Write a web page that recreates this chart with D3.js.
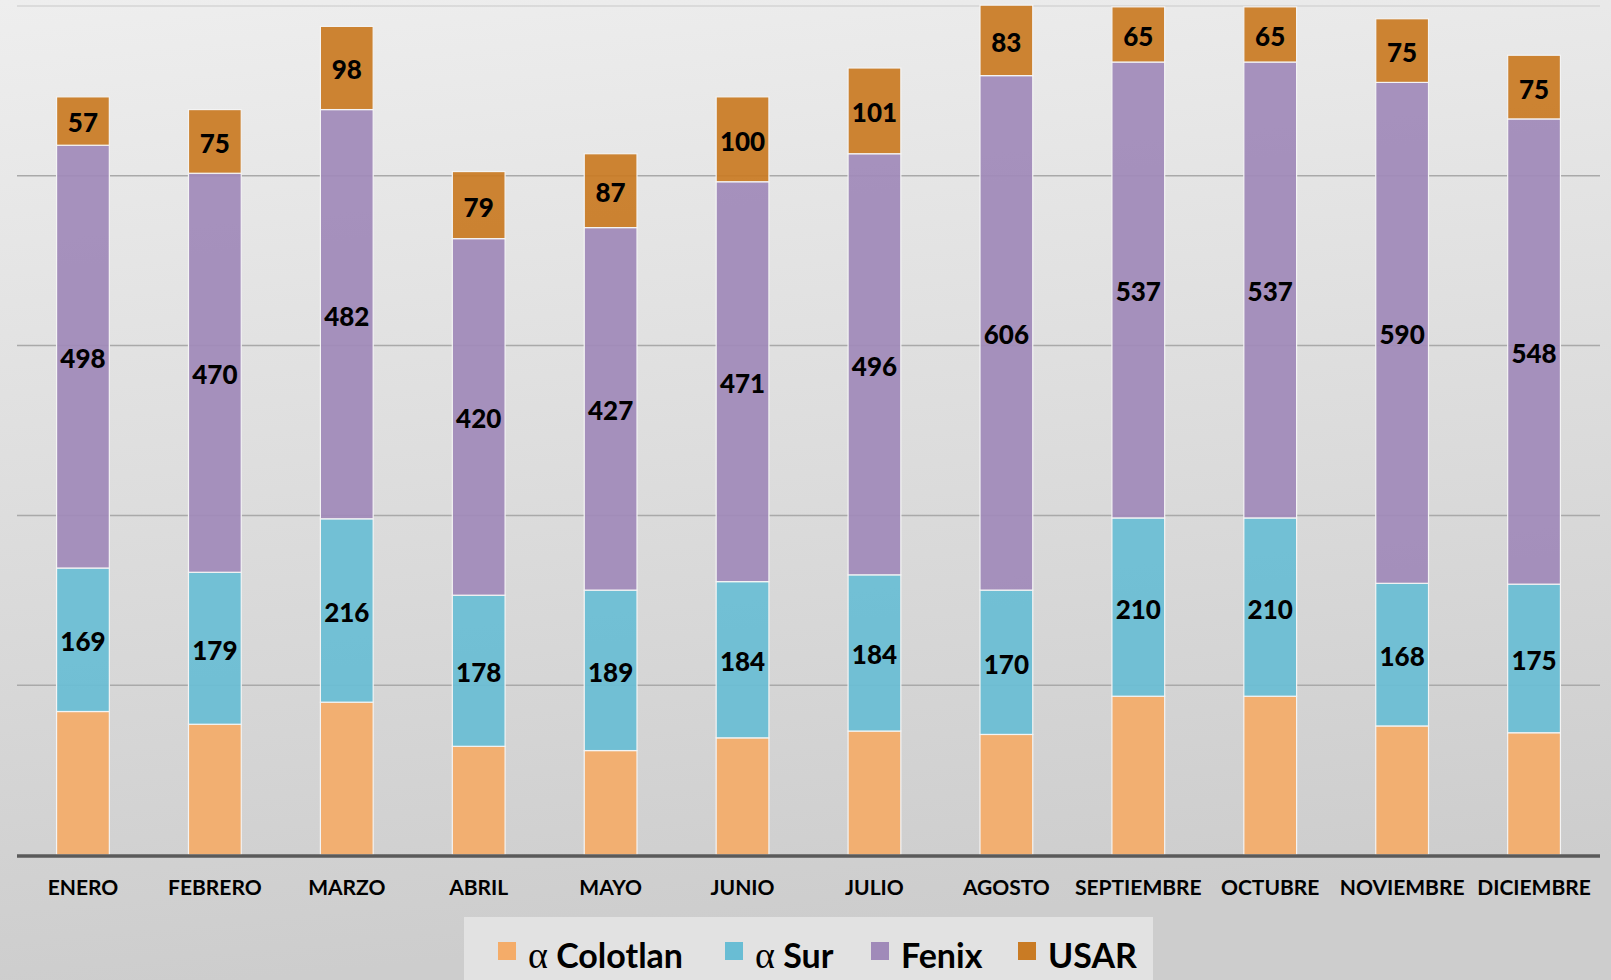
<!DOCTYPE html>
<html>
<head>
<meta charset="utf-8">
<script src="https://cdn.jsdelivr.net/npm/d3@7"></script>
<style>
  html, body { margin: 0; padding: 0; overflow: hidden; }
  body { width: 1611px; height: 980px; }
  text { font-family: Lato, "Open Sans", sans-serif; font-weight: bold; fill: #000; }
</style>
</head>
<body>
<div id="chart"></div>
<script>
const months = ["ENERO", "FEBRERO", "MARZO", "ABRIL", "MAYO", "JUNIO", "JULIO",
  "AGOSTO", "SEPTIEMBRE", "OCTUBRE", "NOVIEMBRE", "DICIEMBRE"];
const seriesNames = ["α Colotlan", "α Sur", "Fenix", "USAR"];
const colotlan = [169, 154, 180, 128, 123, 138, 146, 142, 187, 187, 152, 144];
const sur = [169, 179, 216, 178, 189, 184, 184, 170, 210, 210, 168, 175];
const fenix = [498, 470, 482, 420, 427, 471, 496, 606, 537, 537, 590, 548];
const usar = [57, 75, 98, 79, 87, 100, 101, 83, 65, 65, 75, 75];
const gridTicks = [200, 400, 600, 800, 1000];
const colors = ["#f4ac69", "#69bdd4", "#a08ab9", "#c97b24"];
const labelled = [false, true, true, true];

const width = 1611, height = 980;

// rows for d3.stack
const keys = ["colotlan", "sur", "fenix", "usar"];
const table = months.map((m, i) => ({
  month: m, colotlan: colotlan[i], sur: sur[i], fenix: fenix[i], usar: usar[i]
}));

const svg = d3.select("#chart").append("svg")
  .attr("width", width)
  .attr("height", height);

const defs = svg.append("defs");
const grad = defs.append("linearGradient")
  .attr("id", "bg")
  .attr("x1", "0").attr("y1", "0")
  .attr("x2", "0.15").attr("y2", "1");
grad.append("stop").attr("offset", "0%").attr("stop-color", "#eeeeee");
grad.append("stop").attr("offset", "100%").attr("stop-color", "#cdcdcd");

svg.append("rect")
  .attr("width", width)
  .attr("height", height)
  .attr("fill", "url(#bg)");

const x = d3.scaleBand()
  .domain(months)
  .range([17, 1600])
  .paddingInner(0.6)
  .paddingOuter(0.3);

const y = d3.scaleLinear()
  .domain([0, 1000])
  .range([855, 6]);

// gridlines
svg.append("g")
  .selectAll("line")
  .data(gridTicks)
  .enter().append("line")
  .attr("x1", 17)
  .attr("x2", 1600)
  .attr("y1", d => y(d))
  .attr("y2", d => y(d))
  .attr("stroke", d => d === 1000 ? "#d4d4d4" : "#a9a9a9")
  .attr("stroke-width", 1.5);

const stacked = d3.stack().keys(keys)(table);

const layer = svg.append("g")
  .selectAll("g")
  .data(stacked)
  .enter().append("g")
  .attr("fill", (d, i) => colors[i]);

layer.selectAll("rect")
  .data(d => d)
  .enter().append("rect")
  .attr("x", d => x(d.data.month))
  .attr("width", x.bandwidth())
  .attr("y", d => y(d[1]))
  .attr("height", d => y(d[0]) - y(d[1]))
  .attr("fill-opacity", 0.93)
  .attr("stroke", "#f4f4f4")
  .attr("stroke-width", 1.2);

// value labels, centred in each segment
layer.filter((d, i) => labelled[i])
  .selectAll("text")
  .data(d => d.map(v => ({ v, key: d.key })))
  .enter().append("text")
  .attr("x", d => x(d.v.data.month) + x.bandwidth() / 2)
  .attr("y", d => (y(d.v[0]) + y(d.v[1])) / 2)
  .attr("dy", "0.44em")
  .attr("text-anchor", "middle")
  .style("font-size", "26px")
  .style("font-weight", "900")
  .text(d => d.v.data[d.key]);

// x axis baseline
svg.append("line")
  .attr("x1", 17)
  .attr("x2", 1600)
  .attr("y1", y(0) + 1)
  .attr("y2", y(0) + 1)
  .attr("stroke", "#5a5a5a")
  .attr("stroke-width", 3.5);

const xAxis = svg.append("g")
  .attr("transform", `translate(0, ${y(0)})`)
  .call(d3.axisBottom(x).tickSize(0).tickPadding(25));
xAxis.select(".domain").remove();
xAxis.selectAll("text")
  .style("font-family", "Lato, sans-serif")
  .style("font-weight", "bold")
  .style("font-size", "21px")
  .attr("fill", "#000");

// legend
const legend = svg.append("g");
legend.append("rect")
  .attr("x", 464)
  .attr("y", 917)
  .attr("width", 689)
  .attr("height", 63)
  .attr("fill", "#e2e2e2");

const legendX = [498, 725, 871, 1018];
const items = legend.selectAll("g")
  .data(seriesNames)
  .enter().append("g")
  .attr("transform", (d, i) => `translate(${legendX[i]}, 942)`);

items.append("rect")
  .attr("width", 18)
  .attr("height", 18)
  .attr("fill", (d, i) => colors[i]);

const lt = items.append("text")
  .attr("x", 30)
  .attr("y", 26)
  .style("font-size", "34px");
lt.each(function(d) {
  const t = d3.select(this);
  if (d.startsWith("α")) {
    t.append("tspan")
      .style("font-family", "'Liberation Serif', 'DejaVu Serif', serif")
      .style("font-weight", "normal")
      .style("font-size", "38px")
      .text("α");
    t.append("tspan").text(" " + d.slice(2));
  } else {
    t.text(d);
  }
});
</script>
</body>
</html>
